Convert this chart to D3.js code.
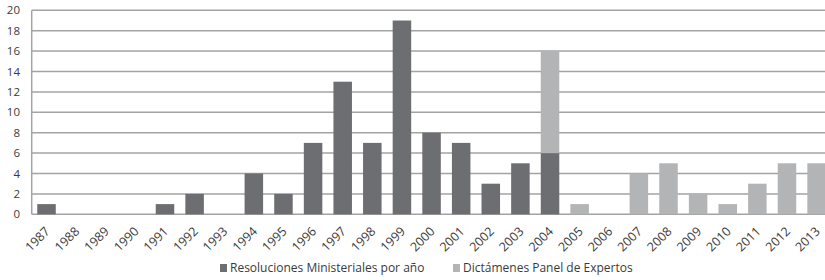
<!DOCTYPE html>
<html>
  <head>
    <meta http-equiv="Content-Type" content="text/html;charset=utf-8">
    <title>Resoluciones y dictámenes por año</title>
    <script type="text/javascript" src="https://d3js.org/d3.v7.min.js"></script>
    <style>
	    html, body {
		    margin: 0;
		    padding: 0;
		    background: #fff;
	    }
	    text {
		    font-family: "Open Sans", Arial, sans-serif;
		    fill: #3a3a3a;
	    }
	    .grid line {
		    stroke: #a3a3a3;
		    stroke-width: 1.5px;
	    }
    </style>
  </head>
  <body>
	<script type="text/javascript">

var years = ["1987","1988","1989","1990","1991","1992","1993","1994","1995","1996",
             "1997","1998","1999","2000","2001","2002","2003","2004","2005","2006",
             "2007","2008","2009","2010","2011","2012","2013"];

var resoluciones = [1,0,0,0,1,2,0,4,2,7,13,7,19,8,7,3,5,6,0,0,0,0,0,0,0,0,0];
var dictamenes   = [0,0,0,0,0,0,0,0,0,0,0,0,0,0,0,0,0,10,1,0,4,5,2,1,3,5,5];

var yTicks = [0,2,4,6,8,10,12,14,16,18,20];

var seriesNames = ["Resoluciones Ministeriales por año", "Dictámenes Panel de Expertos"];
var colors = ["#6d6e71", "#b3b4b6"];

var width = 825, height = 280;
var plotLeft = 31.7, plotRight = 831.4, plotTop = 10.3, plotBottom = 214.3;

var svg = d3.select("body").append("svg").attr("width", width).attr("height", height);

var x = d3.scaleBand()
	.domain(years)
	.range([plotLeft, plotRight])
	.paddingInner(0.375)
	.paddingOuter(0.1875);

var y = d3.scaleLinear()
	.domain([0, 20])
	.range([plotBottom, plotTop]);

// gridlines
svg.append("g").attr("class","grid")
	.selectAll("line")
	.data(yTicks)
	.enter().append("line")
	.attr("x1", plotLeft).attr("x2", width)
	.attr("y1", function(d){ return y(d); })
	.attr("y2", function(d){ return y(d); });

svg.append("line")
	.attr("x1", plotLeft).attr("x2", plotLeft)
	.attr("y1", plotTop).attr("y2", plotBottom)
	.attr("stroke", "#a3a3a3").attr("stroke-width", 1.5);

// y labels
svg.append("g").selectAll("text")
	.data(yTicks)
	.enter().append("text")
	.attr("x", 20)
	.attr("y", function(d){ return y(d); })
	.attr("dy", "0.35em")
	.attr("text-anchor", "end")
	.style("font-size", "11.5px")
	.text(function(d){ return d; });

// stacked bars
var rows = years.map(function(yr, i){ return { year: yr, a: resoluciones[i], b: dictamenes[i] }; });
var stack = d3.stack().keys(["a","b"])(rows);

svg.append("g").selectAll("g")
	.data(stack)
	.enter().append("g")
	.attr("fill", function(d, i){ return colors[i]; })
	.selectAll("rect")
	.data(function(d){ return d.filter(function(v){ return v[1] > v[0]; }); })
	.enter().append("rect")
	.attr("x", function(d){ return x(d.data.year); })
	.attr("width", x.bandwidth())
	.attr("y", function(d){ return y(d[1]); })
	.attr("height", function(d){ return y(d[0]) - y(d[1]); });

// x labels
svg.append("g").selectAll("text")
	.data(years)
	.enter().append("text")
	.attr("text-anchor", "end")
	.attr("transform", function(d){
		return "translate(" + (x(d) + x.bandwidth() / 2 + 1) + "," + 229 + ") rotate(-45)";
	})
	.attr("dy", "0.35em")
	.style("font-size", "12.5px")
	.text(function(d){ return d; });

// legend
var legendX = [220, 453];
var legend = svg.append("g").selectAll("g")
	.data(seriesNames)
	.enter().append("g")
	.attr("transform", function(d, i){ return "translate(" + legendX[i] + ",268)"; });

legend.append("rect")
	.attr("x", 0).attr("y", -4)
	.attr("width", 7).attr("height", 8)
	.attr("fill", function(d, i){ return colors[i]; });

legend.append("text")
	.attr("x", 10)
	.attr("dy", "0.35em")
	.style("font-size", "12px")
	.text(function(d){ return d; });

	</script>
  </body>
</html>
